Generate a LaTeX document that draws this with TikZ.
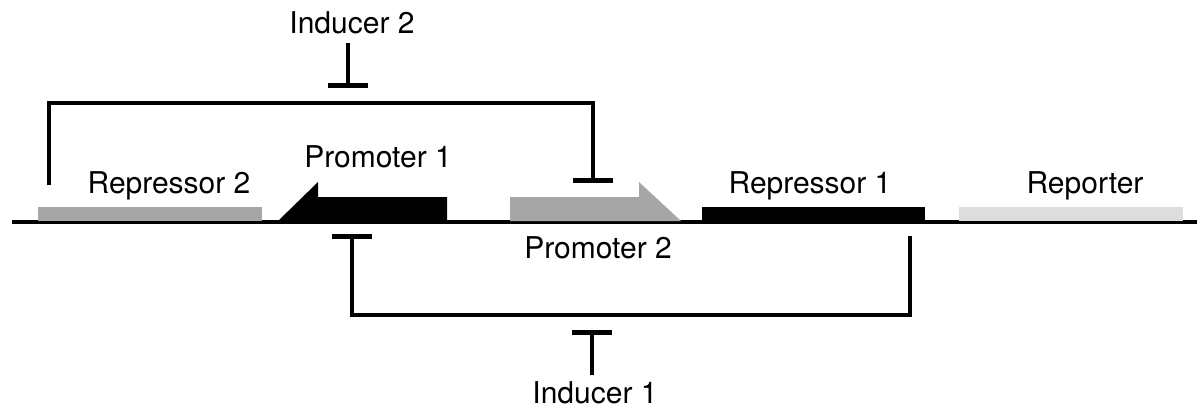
\documentclass[tikz,border=0pt]{standalone}
\usepackage{fontspec}
\setmainfont{TeX Gyre Heros}
\usetikzlibrary{arrows.meta,positioning}
\definecolor{partgray}{RGB}{166,166,166}
\definecolor{reportergray}{RGB}{221,221,221}
\tikzset{
genebar/.style={
  rectangle,
  draw=none,
  inner sep=0pt,
  minimum height=7pt,
  minimum width=#1
},
partlabel/.style={
  font=\fontsize{15}{18}\selectfont,
  inner sep=0pt,
  anchor=base
},
inhibit/.style={
  -{Bar[width=20pt,line width=2.4pt]},
  line width=2pt
}
}

\begin{document}
\begin{tikzpicture}[x=0.5pt, y=-0.5pt]
\useasboundingbox (0,0) rectangle (1197,407);

% DNA
\draw[line width=2pt] (12,222) -- (1197,222);

% Genes
\node[genebar=112pt, fill=partgray] (rep2) at (150,214) {};
\node[genebar=111.5pt, fill=black] (rep1) at (813.5,214) {};
\node[genebar=112pt, fill=reportergray] (reporter) at (1071,214) {};

% Promotores
\fill[black] (278,221) -- (318,182) -- (318,197) -- (447,197) -- (447,221) -- cycle;
\fill[partgray] (510,221) -- (510,197) -- (639,197) -- (639,182) -- (681,221) -- cycle;

% Labels
\node[partlabel] (rep2lbl) at (169,193) {Repressor 2};
\node[partlabel] (p1lbl) at (378,167) {Promoter 1};
\node[partlabel] (p2lbl) at (598,258) {Promoter 2};
\node[partlabel] (rep1lbl) at (810,193) {Repressor 1};
\node[partlabel] (reporterlbl) at (1085,193) {Reporter};
\node[partlabel] (ind2) at (352,33) {Inducer 2};
\node[partlabel] (ind1) at (595,403) {Inducer 1};

% Repressao
\coordinate (rep2out) at (49,185);
\coordinate (p2bar) at (593,183);
\coordinate (rep1out) at (910,236);
\coordinate (p1bar) at (352,234);
\draw[inhibit] (rep2out) -- (49,103) -| (p2bar);
\draw[inhibit] (rep1out) -- (910,315) -| (p1bar);

% Indutores
\coordinate (ind2tail) at (348,43);
\coordinate (ind2bar) at (348,88);
\coordinate (ind1tail) at (592,375);
\coordinate (ind1bar) at (592,330);
\draw[inhibit] (ind2tail) -- (ind2bar);
\draw[inhibit] (ind1tail) -- (ind1bar);

\end{tikzpicture}
\end{document}
